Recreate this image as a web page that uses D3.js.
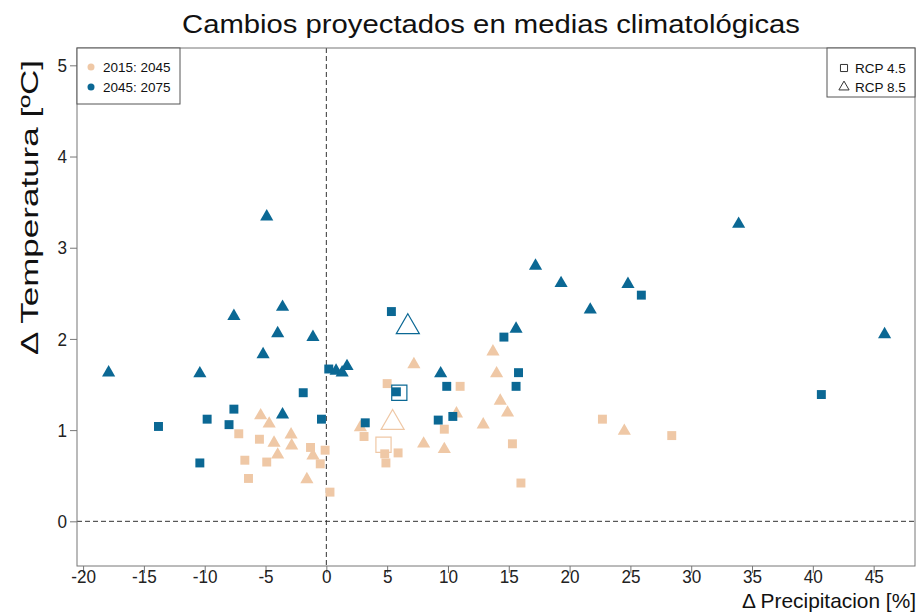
<!DOCTYPE html>
<html>
<head>
<meta charset="utf-8">
<script src="https://cdn.jsdelivr.net/npm/d3@7"></script>
<style>
  body { margin: 0; background: #fff; }
  text { font-family: "Liberation Sans", Arial, sans-serif; }
</style>
</head>
<body>
<div id="chart"></div>
<script>
// 2015:2045, RCP 4.5 (squares) and RCP 8.5 (triangles)
var early45 = [[-7.2,0.96],[-5.5,0.90],[-1.3,0.81],[-0.1,0.78],[-0.5,0.63],[-6.7,0.67],[-4.9,0.65],[-6.4,0.47],
  [0.3,0.32],[5.0,1.51],[11.0,1.48],[15.3,0.85],[16.0,0.42],[9.7,1.01],[3.1,0.93],[4.8,0.74],[5.9,0.75],
  [4.9,0.64],[22.7,1.12],[28.4,0.94]];
var early85 = [[-5.4,1.16],[-4.7,1.07],[-4.3,0.86],[-2.9,0.95],[-2.85,0.83],[-1.1,0.72],[-4.0,0.73],[-1.6,0.46],
  [7.2,1.72],[13.7,1.86],[14.0,1.62],[14.3,1.32],[14.9,1.19],[12.9,1.06],[10.7,1.18],[8.0,0.85],[9.7,0.79],
  [2.8,1.03],[24.5,0.99]];
// 2045:2075
var late45 = [[0.2,1.67],[-1.9,1.41],[-7.6,1.23],[-9.8,1.12],[-13.8,1.04],[-8.0,1.06],[-0.4,1.12],[-10.4,0.64],
  [5.35,2.30],[5.76,1.42],[9.9,1.48],[14.6,2.02],[15.8,1.63],[15.6,1.48],[9.2,1.11],[10.4,1.15],[3.2,1.08],
  [25.9,2.48],[40.7,1.39]];
var late85 = [[-4.9,3.34],[-3.6,2.35],[-7.6,2.25],[-4.0,2.06],[-1.1,2.02],[-5.2,1.83],[-17.9,1.63],[-10.4,1.62],
  [-3.6,1.17],[0.8,1.65],[1.3,1.63],[1.7,1.70],[9.4,1.62],[15.6,2.11],[17.2,2.80],[19.3,2.61],[24.8,2.60],
  [21.7,2.32],[33.9,3.26],[45.9,2.05]];
// ensemble means
var means = [
  {x: 4.7, y: 0.84, period: 0, rcp: "4.5"},
  {x: 5.45, y: 1.08, period: 0, rcp: "8.5"},
  {x: 6.0, y: 1.41, period: 1, rcp: "4.5"},
  {x: 6.7, y: 2.13, period: 1, rcp: "8.5"}
];
var periods = ["2015: 2045", "2045: 2075"];
var rcps = ["RCP 4.5", "RCP 8.5"];
var xTicks = d3.range(-20, 50, 5);
var yTicks = [0, 1, 2, 3, 4, 5];
var colors = ["#efc8a6", "#0b6894"];

var W = 924, H = 616;
var m = {left: 77, right: 9, top: 48, bottom: 50};

var svg = d3.select("#chart").append("svg")
  .attr("width", W).attr("height", H);

var x = d3.scaleLinear().domain([-20.5, 48.4]).range([m.left, W - m.right]);
var y = d3.scaleLinear().domain([-0.49, 5.19]).range([H - m.bottom, m.top]);

// reference lines
svg.append("line")
  .attr("x1", x(0)).attr("x2", x(0)).attr("y1", m.top).attr("y2", H - m.bottom)
  .attr("stroke", "#333").attr("stroke-dasharray", "5,3");
svg.append("line")
  .attr("x1", m.left).attr("x2", W - m.right).attr("y1", y(0)).attr("y2", y(0))
  .attr("stroke", "#333").attr("stroke-dasharray", "5,3");

// axes
var fmt = function(d) { return String(d); };
var xAxis = svg.append("g")
  .attr("transform", "translate(0," + (H - m.bottom) + ")")
  .call(d3.axisBottom(x).tickValues(xTicks).tickFormat(fmt).tickSize(7).tickSizeOuter(0));
var yAxis = svg.append("g")
  .attr("transform", "translate(" + m.left + ",0)")
  .call(d3.axisLeft(y).tickValues(yTicks).tickFormat(fmt).tickSize(7).tickSizeOuter(0));
[xAxis, yAxis].forEach(function(a) {
  a.select(".domain").remove();
  a.selectAll("line").attr("stroke", "#777");
  a.selectAll("text").attr("font-size", 19).attr("fill", "#222")
    .attr("font-family", "Liberation Sans, Arial")
    .each(function() {
      var w = this.getComputedTextLength();
      d3.select(this).attr("textLength", w * 0.9).attr("lengthAdjust", "spacingAndGlyphs");
    });
});
xAxis.selectAll("text").attr("dy", "0.37em");

// frame
svg.append("rect")
  .attr("x", m.left).attr("y", m.top)
  .attr("width", W - m.left - m.right).attr("height", H - m.top - m.bottom)
  .attr("fill", "none").attr("stroke", "#777");

var sq = d3.symbol().type(d3.symbolSquare);
var tri = d3.symbol().type(d3.symbolTriangle);

function drawSet(data, sym, size, color) {
  svg.append("g").selectAll("path")
    .data(data).join("path")
    .attr("d", sym.size(size)())
    .attr("transform", function(d) { return "translate(" + x(d[0]) + "," + y(d[1]) + ")"; })
    .attr("fill", color);
}
drawSet(early45, sq, 80, colors[0]);
drawSet(early85, tri, 75, colors[0]);
drawSet(late45, sq, 80, colors[1]);
drawSet(late85, tri, 75, colors[1]);

// means: large open symbols
svg.append("g").selectAll("path")
  .data(means).join("path")
  .attr("d", function(d) { return d3.symbol().type(d.rcp === "4.5" ? d3.symbolSquare : d3.symbolTriangle).size(230)(); })
  .attr("transform", function(d) { return "translate(" + x(d.x) + "," + y(d.y) + ")"; })
  .attr("fill", "none")
  .attr("stroke", function(d) { return colors[d.period]; })
  .attr("stroke-width", 1.2);

// title and axis labels
svg.append("text")
  .attr("x", 182).attr("y", 33)
  .attr("font-size", 25).attr("fill", "#111")
  .attr("textLength", 618).attr("lengthAdjust", "spacingAndGlyphs")
  .text("Cambios proyectados en medias climatológicas");
svg.append("text")
  .attr("x", 742).attr("y", 608)
  .attr("font-size", 21).attr("fill", "#111")
  .attr("textLength", 174).attr("lengthAdjust", "spacingAndGlyphs")
  .text("Δ Precipitacion [%]");
svg.append("text")
  .attr("transform", "translate(38,355) rotate(-90)")
  .attr("font-size", 24).attr("fill", "#111")
  .attr("textLength", 295).attr("lengthAdjust", "spacingAndGlyphs")
  .text("Δ Temperatura [ºC]");

// legend: periods
var lg1 = svg.append("g");
lg1.append("rect").attr("x", m.left).attr("y", m.top).attr("width", 103).attr("height", 56)
  .attr("fill", "#fff").attr("stroke", "#555");
periods.forEach(function(p, i) {
  lg1.append("circle").attr("cx", m.left + 14).attr("cy", 67 + i * 20).attr("r", 3.5).attr("fill", colors[i]);
  lg1.append("text").attr("x", m.left + 26).attr("y", 67 + i * 20).attr("dy", "0.35em")
    .attr("font-size", 13.5).attr("fill", "#111").text(p);
});

// legend: scenarios
var lg2 = svg.append("g");
lg2.append("rect").attr("x", 827).attr("y", m.top).attr("width", W - m.right - 827).attr("height", 49)
  .attr("fill", "#fff").attr("stroke", "#555");
rcps.forEach(function(r, i) {
  var s = d3.symbol().type(i === 0 ? d3.symbolSquare : d3.symbolTriangle).size(i === 0 ? 50 : 45);
  lg2.append("path").attr("d", s()).attr("transform", "translate(844," + (68 + i * 19) + ")")
    .attr("fill", "none").attr("stroke", "#333").attr("stroke-width", 1);
  lg2.append("text").attr("x", 855).attr("y", 68 + i * 19).attr("dy", "0.35em")
    .attr("font-size", 13.5).attr("fill", "#111").text(r);
});
</script>
</body>
</html>
